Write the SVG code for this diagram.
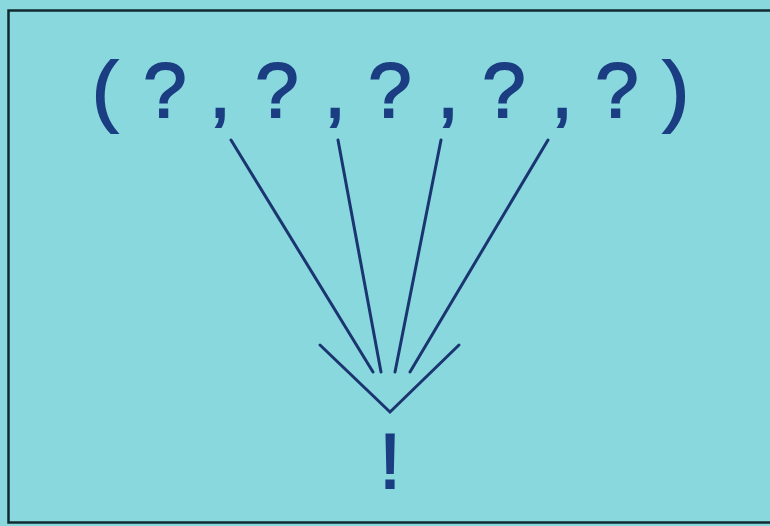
<svg xmlns="http://www.w3.org/2000/svg" width="770" height="526" viewBox="0 0 770 526">
<style>
.t{font-family:"Liberation Sans",Arial,sans-serif;font-size:78px;fill:#1b3d82;stroke:#1b3d82;stroke-width:1.8;text-anchor:middle}
.c{stroke:#1b3570;stroke-width:3;fill:none;stroke-linecap:round}
</style>
<rect x="0" y="0" width="770" height="526" fill="#88d8de"/>
<path d="M770 10.5H8.5V522.5H770" fill="none" stroke="#102a30" stroke-width="2.5"/>
<g id="tuple">
<text class="t" x="105" y="117">(</text>
<text class="t" x="165" y="117">?</text>
<text class="t" x="220" y="117">,</text>
<text class="t" x="277" y="117">?</text>
<text class="t" x="335" y="117">,</text>
<text class="t" x="390" y="117">?</text>
<text class="t" x="448" y="117">,</text>
<text class="t" x="504" y="117">?</text>
<text class="t" x="562" y="117">,</text>
<text class="t" x="617" y="117">?</text>
<text class="t" x="676" y="117">)</text>
</g>
<g id="result">
<text class="t" x="390" y="488">!</text>
</g>
<g id="connectors">
<line class="c" x1="231" y1="140" x2="373" y2="372"/>
<line class="c" x1="338" y1="140" x2="381" y2="372"/>
<line class="c" x1="441" y1="140" x2="395" y2="372"/>
<line class="c" x1="548" y1="140" x2="410" y2="372"/>
<polyline class="c" points="320,345 390,412 459,345"/>
</g>
</svg>
